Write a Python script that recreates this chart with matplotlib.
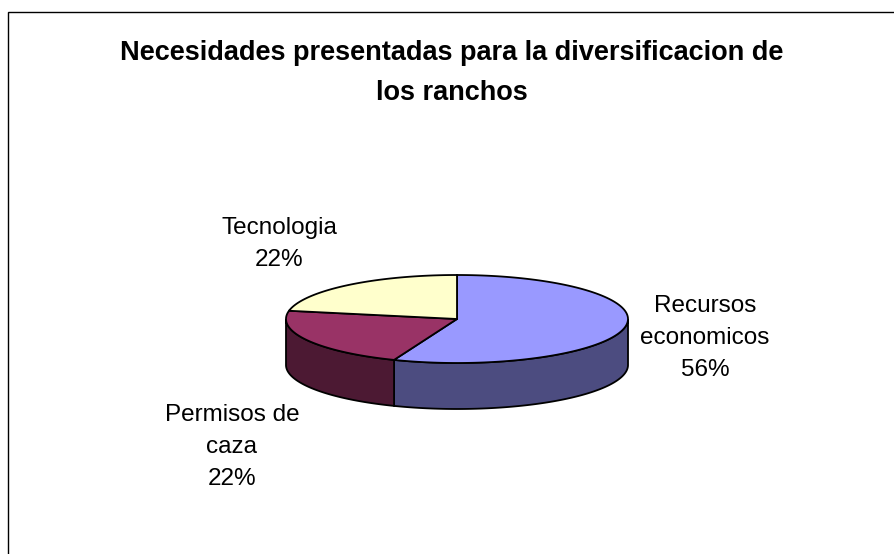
import numpy as np
import matplotlib
matplotlib.use("Agg")
import matplotlib.pyplot as plt
from matplotlib.patches import Polygon, Rectangle

plt.rcParams['font.family'] = ['Liberation Sans', 'DejaVu Sans']

# Slice data
labels = ["Recursos\neconomicos", "Permisos de\ncaza", "Tecnologia"]
values = [56, 22, 22]
top_colors = ["#9999ff", "#993366", "#ffffcc"]
side_colors = ["#4c4c80", "#4c1933", "#808066"]

title = "Necesidades presentadas para la diversificacion de\nlos ranchos"

# label anchor points (pixel coords)
label_pos = [(705, 338), (232, 447), (279, 244)]

# pie geometry in pixels
cx, cy = 457, 319
rx, ry = 171, 44
depth = 46

fig = plt.figure(figsize=(8.95, 5.54), dpi=100)
ax = fig.add_axes([0, 0, 1, 1])
ax.set_xlim(0, 895)
ax.set_ylim(554, 0)
ax.axis("off")

# chart area border (right/bottom run off the canvas)
ax.add_patch(Rectangle((8.5, 11.5), 1000, 1000, facecolor="white",
                       edgecolor="black", lw=1.0, zorder=0))


def arc(t0, t1, dy=0.0, n=120):
    t = np.radians(np.linspace(t0, t1, n))
    return np.column_stack([cx + rx * np.cos(t), cy - ry * np.sin(t) + dy])


total = float(sum(values))
starts = []
a = 90.0
for v in values:
    starts.append((a, a - 360.0 * v / total))
    a -= 360.0 * v / total

# outer walls (only the front half is visible)
for (a0, a1), col in zip(starts, side_colors):
    lo, hi = max(a1, -180.0), min(a0, 0.0)
    if lo >= hi:
        continue
    pts = np.vstack([arc(hi, lo), arc(lo, hi, dy=depth)])
    ax.add_patch(Polygon(pts, closed=True, facecolor=col,
                         edgecolor="black", lw=1.3, zorder=2))

# top faces
for (a0, a1), col in zip(starts, top_colors):
    pts = np.vstack([[cx, cy], arc(a0, a1)])
    ax.add_patch(Polygon(pts, closed=True, facecolor=col,
                         edgecolor="black", lw=1.3, zorder=3))

for lab, v, (x, y) in zip(labels, values, label_pos):
    ax.text(x, y, f"{lab}\n{v}%", ha="center", va="center",
            fontsize=17.5, linespacing=1.6, color="black", zorder=4)

ax.text(452, 73, title, ha="center", va="center", fontsize=19.5,
        fontweight="bold", linespacing=1.72, zorder=4)

fig.savefig("out.png", dpi=100)
